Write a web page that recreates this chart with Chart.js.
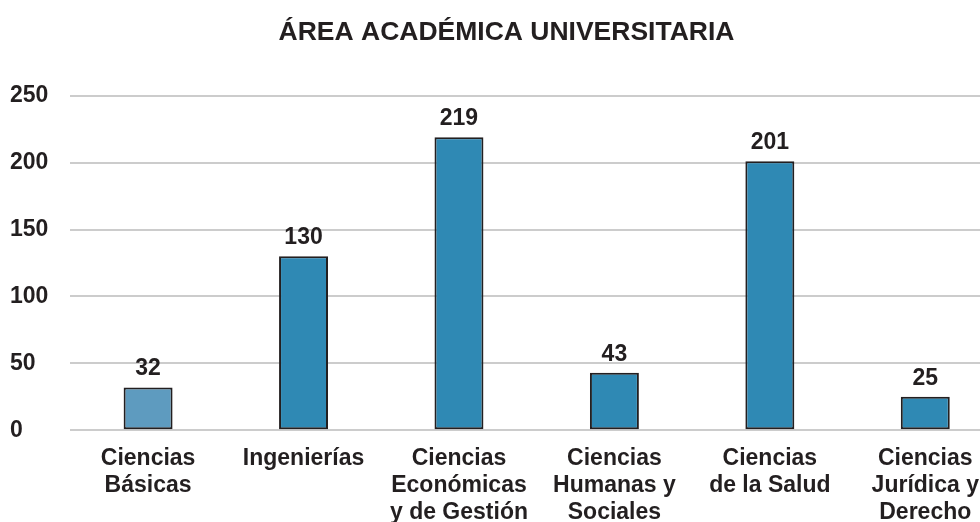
<!DOCTYPE html>
<html>
<head>
<meta charset="utf-8">
<script src="https://cdn.jsdelivr.net/npm/chart.js@4/dist/chart.umd.min.js"></script>
<style>
  html, body { margin: 0; padding: 0; background: #fff; overflow: hidden; }
  #wrap { width: 1003px; height: 533px; }
</style>
</head>
<body>
<div id="wrap"><canvas id="myChart"></canvas></div>
<script>
// data
const categories = [
  ['Ciencias', 'Básicas'],
  ['Ingenierías'],
  ['Ciencias', 'Económicas', 'y de Gestión'],
  ['Ciencias', 'Humanas y', 'Sociales'],
  ['Ciencias', 'de la Salud'],
  ['Ciencias', 'Jurídica y', 'Derecho']
];
const students = [32, 130, 219, 43, 201, 25];
const yTicks = [0, 50, 100, 150, 200, 250];

const barColors = ['#5e9bbf', '#2f89b4', '#2f89b4', '#2f89b4', '#2f89b4', '#2f89b4'];
const fontFamily = '"Liberation Sans", Arial, Helvetica, sans-serif';

// numbers over the bars
const valueLabels = {
  id: 'valueLabels',
  afterDatasetsDraw(chart) {
    const ctx = chart.ctx;
    const meta = chart.getDatasetMeta(0);
    ctx.save();
    ctx.font = 'bold 23px ' + fontFamily;
    ctx.fillStyle = '#231f20';
    ctx.textAlign = 'center';
    ctx.textBaseline = 'bottom';
    meta.data.forEach((bar, i) => {
      ctx.fillText(chart.data.datasets[0].data[i], bar.x, bar.y - 7);
    });
    ctx.restore();
  }
};

const ctx = document.getElementById('myChart').getContext('2d');
const myChart = new Chart(ctx, {
  type: 'bar',
  data: {
    labels: categories,
    datasets: [{
      label: 'Área académica',
      data: students,
      backgroundColor: barColors,
      borderColor: '#231f20',
      borderWidth: 2,
      borderSkipped: false,
      barPercentage: 0.63,
      categoryPercentage: 0.5
    }]
  },
  options: {
    responsive: true,
    maintainAspectRatio: false,
    animation: false,
    layout: { padding: { left: 10, right: 0, top: 0, bottom: 0 } },
    plugins: {
      legend: { display: false },
      tooltip: { enabled: false },
      title: {
        display: true,
        text: 'ÁREA ACADÉMICA UNIVERSITARIA',
        color: '#231f20',
        font: { family: fontFamily, size: 26.5, weight: 'bold' },
        padding: { top: 17, bottom: 47 }
      }
    },
    scales: {
      x: {
        grid: { display: false },
        border: { display: false },
        ticks: {
          color: '#231f20',
          font: { family: fontFamily, size: 23, weight: 'bold', lineHeight: 1.17 },
          padding: 7,
          maxRotation: 0,
          autoSkip: false
        }
      },
      y: {
        min: 0,
        max: 250,
        afterBuildTicks(axis) {
          axis.ticks = yTicks.map(v => ({ value: v }));
        },
        grid: { color: '#cccccc', lineWidth: 2, drawTicks: false },
        border: { display: false },
        ticks: {
          color: '#231f20',
          font: { family: fontFamily, size: 23, weight: 'bold' },
          crossAlign: 'far',
          padding: 11
        }
      }
    }
  },
  plugins: [valueLabels]
});
</script>
</body>
</html>
